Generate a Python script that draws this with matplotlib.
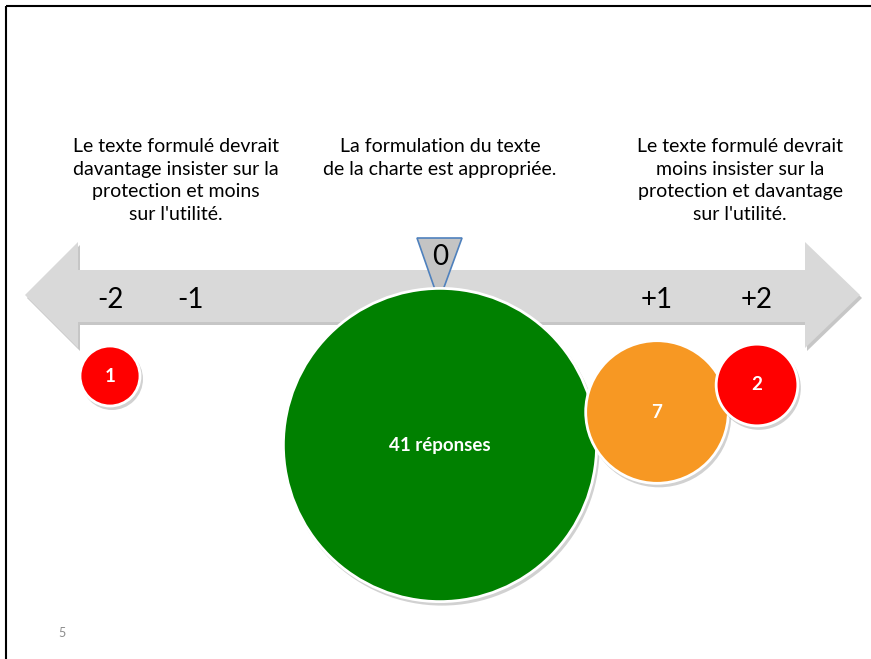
import matplotlib
matplotlib.use("Agg")
import matplotlib.pyplot as plt
from matplotlib.patches import Circle, Polygon, Rectangle

# ---- data ----
scores = ["-2", "-1", "0", "+1", "+2"]
counts = [1, 0, 41, 7, 2]
bubble_labels = ["1", "", "41 réponses", "7", "2"]
bubble_colors = ["#ff0000", None, "#008000", "#f79823", "#ff0000"]
header_texts = [
    "Le texte formulé devrait\ndavantage insister sur la\nprotection et moins\nsur l'utilité.",
    "La formulation du texte\nde la charte est appropriée.",
    "Le texte formulé devrait\nmoins insister sur la\nprotection et davantage\nsur l'utilité.",
]
page_number = "5"

# ---- layout (pixel coordinates of the slide) ----
score_x = [110, 190, 440, 657, 757]
bubble_y = [376, None, 445, 412, 385]
header_x = [176, 440, 740]
header_y = 138
font = ["Lato", "DejaVu Sans"]

fig = plt.figure(figsize=(8.71, 6.59), dpi=100)
ax = fig.add_axes([0, 0, 1, 1])
ax.set_xlim(0, 871)
ax.set_ylim(659, 0)
ax.set_aspect("equal")
ax.axis("off")

# slide frame
ax.add_patch(Rectangle((6, 6), 900, 700, fill=False, ec="black", lw=1.5, zorder=1))

# double arrow
def arrow_pts(dx=0, dy=0):
    pts = [(25, 295), (78, 242), (78, 270), (805, 270), (805, 242), (860, 295),
           (805, 348), (805, 322), (78, 322), (78, 348)]
    return [(x + dx, y + dy) for x, y in pts]

ax.add_patch(Polygon(arrow_pts(2, 3), closed=True, fc="#b8b8b8", ec="none", zorder=2, alpha=0.8))
ax.add_patch(Polygon(arrow_pts(), closed=True, fc="#d9d9d9", ec="none", zorder=3))

# marker triangle at 0
zx = score_x[2]
ax.add_patch(Polygon([(zx - 23, 238), (zx + 22, 238), (zx - 1, 301)], closed=True,
                     fc="#c4c4c4", ec="#4f81bd", lw=1.2, zorder=4))

# score labels
for s, x in zip(scores, score_x):
    y = 257 if s == "0" else 300
    ax.text(x, y, s, ha="center", va="center", fontsize=20, family=font,
            color="black", zorder=6)

# header texts
for t, x in zip(header_texts, header_x):
    ax.text(x, header_y, t, ha="center", va="top", fontsize=14, family=font,
            color="black", linespacing=1.4, zorder=6)

# bubbles
r_unit = 30
for i, (c, lab, col) in enumerate(zip(counts, bubble_labels, bubble_colors)):
    if c <= 0:
        continue
    r = r_unit * c ** 0.445
    cx, cy = score_x[i], bubble_y[i]
    z = 5 + i * 0.1
    ax.add_patch(Circle((cx + 2, cy + 3), r + 1, fc="#000000", alpha=0.18, ec="none", zorder=z))
    ax.add_patch(Circle((cx, cy), r, fc=col, ec="white", lw=2, zorder=z + 0.01))
    ax.text(cx, cy, lab, ha="center", va="center", fontsize=13.5, fontweight="bold",
            family=font, color="white", zorder=z + 0.02)

ax.text(62, 633, page_number, ha="center", va="center", fontsize=9, color="#8c8c8c", family=font)

fig.savefig("out.png", dpi=100)
